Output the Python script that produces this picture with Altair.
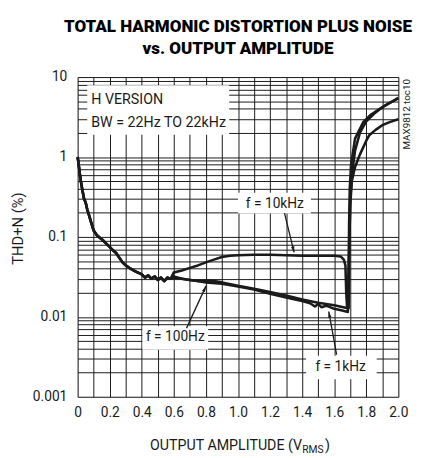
import altair as alt
import pandas as pd

# ---- data ----
common_x = [0, 0.005, 0.012, 0.02, 0.03, 0.04, 0.05, 0.06, 0.07, 0.085, 0.1, 0.12, 0.14, 0.16,
            0.18, 0.2, 0.22, 0.24, 0.26, 0.28, 0.30, 0.33, 0.36, 0.40, 0.42, 0.44, 0.46, 0.48,
            0.50, 0.52, 0.54, 0.56, 0.58]
common_y = [1.0, 0.85, 0.65, 0.5, 0.38, 0.3, 0.27, 0.22, 0.19, 0.15, 0.12, 0.105, 0.097, 0.09,
            0.082, 0.075, 0.068, 0.063, 0.055, 0.048, 0.044, 0.040, 0.037, 0.034, 0.031, 0.033,
            0.030, 0.032, 0.029, 0.031, 0.028, 0.031, 0.030]

f10k_x = [0.6, 0.65, 0.7, 0.75, 0.8, 0.85, 0.9, 0.95, 1.0, 1.1, 1.2, 1.3, 1.4, 1.5, 1.6, 1.64,
          1.66, 1.67, 1.675, 1.68, 1.69, 1.692, 1.695, 1.70, 1.71, 1.73, 1.76, 1.8, 1.85, 1.9, 1.95, 2.0]
f10k_y = [0.036, 0.038, 0.041, 0.044, 0.048, 0.052, 0.056, 0.058, 0.059, 0.060, 0.060, 0.059,
          0.058, 0.058, 0.058, 0.057, 0.052, 0.044, 0.02, 0.0135, 0.0128, 0.03, 0.1, 0.3, 0.6,
          1.2, 2.0, 2.8, 3.5, 4.2, 4.8, 5.5]

f1k_x = [0.6, 0.65, 0.7, 0.75, 0.8, 0.9, 1.0, 1.1, 1.2, 1.3, 1.4, 1.45, 1.48, 1.5, 1.52, 1.55,
         1.6, 1.65, 1.685, 1.69, 1.693, 1.697, 1.705, 1.73, 1.78, 1.83, 1.88, 1.94, 2.0]
f1k_y = [0.031, 0.030, 0.029, 0.028, 0.027, 0.026, 0.024, 0.022, 0.0195, 0.0175, 0.0158, 0.0148,
         0.0135, 0.0145, 0.0132, 0.0138, 0.0126, 0.012, 0.0115, 0.04, 0.15, 0.4, 0.8, 1.7, 2.7,
         3.4, 3.94, 4.7, 5.4]

f100_x = [0.6, 0.65, 0.7, 0.75, 0.8, 0.85, 0.9, 1.0, 1.1, 1.2, 1.3, 1.4, 1.5, 1.6, 1.65, 1.685,
          1.69, 1.695, 1.70, 1.71, 1.73, 1.76, 1.8, 1.82, 1.86, 1.9, 1.95, 2.0]
f100_y = [0.032, 0.030, 0.029, 0.028, 0.0285, 0.028, 0.027, 0.0245, 0.0225, 0.0205, 0.0185,
          0.0165, 0.015, 0.014, 0.0133, 0.0128, 0.03, 0.1, 0.25, 0.5, 0.75, 1.07, 1.6, 1.89,
          2.2, 2.5, 2.75, 2.96]

x_ticks = [round(i * 0.1, 1) for i in range(21)]
y_ticks = [m * 10.0 ** e for e in range(-3, 1) for m in range(1, 10)] + [10.0]

FONT = "Roboto, Liberation Sans, sans-serif"
INK = "#1a1a1a"

rows = []
for name, xs, ys in [("10kHz", f10k_x, f10k_y), ("1kHz", f1k_x, f1k_y), ("100Hz", f100_x, f100_y)]:
    allx = common_x + xs
    ally = common_y + ys
    for i, (a, b) in enumerate(zip(allx, ally)):
        rows.append({"x": a, "y": b, "series": name, "order": i})
df = pd.DataFrame(rows)

xscale = alt.Scale(domain=[0, 2], nice=False, zero=False)
yscale = alt.Scale(type="log", domain=[0.001, 10], nice=False)

xaxis = alt.Axis(values=x_ticks, grid=True, ticks=False, domain=False,
                 labelExpr="datum.value == 0 ? '0' : (round(datum.value*10) % 2 == 0 ? format(datum.value, '.1f') : '')",
                 labelFont=FONT, labelFontSize=14, labelColor=INK, labelPadding=9,
                 title=None, gridColor=INK, gridWidth=1, gridOpacity=1, labelFlush=False)
yaxis = alt.Axis(values=y_ticks, grid=True, ticks=False, domain=False, format="~g",
                 labelExpr="abs(log(datum.value)/log(10) - round(log(datum.value)/log(10))) < 0.001 ? datum.label : ''",
                 labelFont=FONT, labelFontSize=14, labelColor=INK, labelPadding=11,
                 title="THD+N (%)", titleFont=FONT, titleFontSize=15, titleFontWeight="normal",
                 titleColor=INK, titlePadding=7, titleY=154, gridColor=INK, gridWidth=1, gridOpacity=1)

def X(field="x"):
    return alt.X(f"{field}:Q", scale=xscale, axis=xaxis)

def Y(field="y"):
    return alt.Y(f"{field}:Q", scale=yscale, axis=yaxis)

lines = alt.Chart(df).mark_line(color=INK, strokeWidth=2.6, strokeJoin="round").encode(
    x=X(), y=Y(), detail="series:N", order="order:Q")

# annotation boxes (white backgrounds)
box_x = [0.06, 1.0, 0.404, 1.425]
box_x2 = [0.945, 1.455, 0.814, 1.865]
box_y = [7.9, 0.357, 0.00764, 0.00327]
box_y2 = [1.9, 0.196, 0.00388, 0.00166]
boxes = alt.Chart(pd.DataFrame({"x": box_x, "x2": box_x2, "y": box_y, "y2": box_y2})).mark_rect(
    color="white").encode(x=X(), x2="x2:Q", y=Y(), y2="y2:Q")

lbl_text = ["H VERSION", "BW = 22Hz TO 22kHz"]
lbl_x = [0.085, 0.085]
lbl_y = [5.08, 2.65]
left_text = alt.Chart(pd.DataFrame({"x": lbl_x, "y": lbl_y, "t": lbl_text})).mark_text(
    align="left", baseline="middle", font=FONT, fontSize=14.5, color=INK).encode(x=X(), y=Y(), text="t:N")

f_text = ["f = 10kHz", "f = 100Hz", "f = 1kHz"]
f_x = [1.23, 0.609, 1.64]
f_y = [0.261, 0.00561, 0.00233]
ftext = alt.Chart(pd.DataFrame({"x": f_x, "y": f_y, "t": f_text})).mark_text(
    align="center", baseline="middle", font=FONT, fontSize=14, color=INK).encode(x=X(), y=Y(), text="t:N")

# arrows
ar_x = [1.29, 0.679, 1.615]
ar_y = [0.199, 0.00723, 0.00337]
ar_x2 = [1.35, 0.801, 1.566]
ar_y2 = [0.064, 0.0244, 0.01167]
ar_angle = [346, 205, 170]
arrows_df = pd.DataFrame({"x": ar_x, "y": ar_y, "x2": ar_x2, "y2": ar_y2, "ang": ar_angle})
arrow_lines = alt.Chart(arrows_df).mark_rule(color=INK, strokeWidth=1.3).encode(
    x=X(), y=Y(), x2="x2:Q", y2="y2:Q")
heads_df = pd.DataFrame({"x": ar_x2, "y": ar_y2, "ang": ar_angle})
arrow_heads = alt.Chart(heads_df).mark_point(shape="M-0.45,-1.6L0.45,-1.6L0,0Z", filled=True, color=INK,
                                              opacity=1, size=60).encode(
    x=X(), y=Y(), angle=alt.Angle("ang:Q", scale=None))

side = alt.Chart(pd.DataFrame({"x": [2.024], "y": [3.42], "t": ["MAX9812 toc10"]})).mark_text(
    angle=270, align="center", baseline="top", font=FONT, fontSize=10, color=INK).encode(
    x=X(), y=Y(), text="t:N")

xt_df = pd.DataFrame({"x": [1.40, 1.40, 1.543], "y": [0.001, 0.001, 0.001],
                      "t": ["OUTPUT AMPLITUDE (V", "RMS", ")"]})
xt_main = alt.Chart(xt_df.iloc[[0]]).mark_text(align="right", baseline="alphabetic", font=FONT,
                                               fontSize=14.5, color=INK, dy=54).encode(x=X(), y=Y(), text="t:N")
xt_sub = alt.Chart(xt_df.iloc[[1]]).mark_text(align="left", baseline="alphabetic", font=FONT,
                                              fontSize=10.5, color=INK, dy=57).encode(x=X(), y=Y(), text="t:N")
xt_par = alt.Chart(xt_df.iloc[[2]]).mark_text(align="left", baseline="alphabetic", font=FONT,
                                              fontSize=14.5, color=INK, dy=54).encode(x=X(), y=Y(), text="t:N")

chart = alt.layer(boxes, lines, left_text, ftext, arrow_lines, arrow_heads, side,
                  xt_main, xt_sub, xt_par).properties(
    width=327, height=326,
    autosize=alt.AutoSizeParams(type="none"),
    padding={"left": 71, "top": 66, "right": 18, "bottom": 58},
    title=alt.Title(["TOTAL HARMONIC DISTORTION PLUS NOISE", "vs. OUTPUT AMPLITUDE"],
                    anchor="middle", font=FONT, fontSize=17.3, fontWeight=900,
                    color="#000000", lineHeight=23, offset=13),
).configure_view(stroke=INK, strokeWidth=2.6).configure(background="white")

chart.save("out.html", embed_options={"renderer": "svg", "actions": False})
